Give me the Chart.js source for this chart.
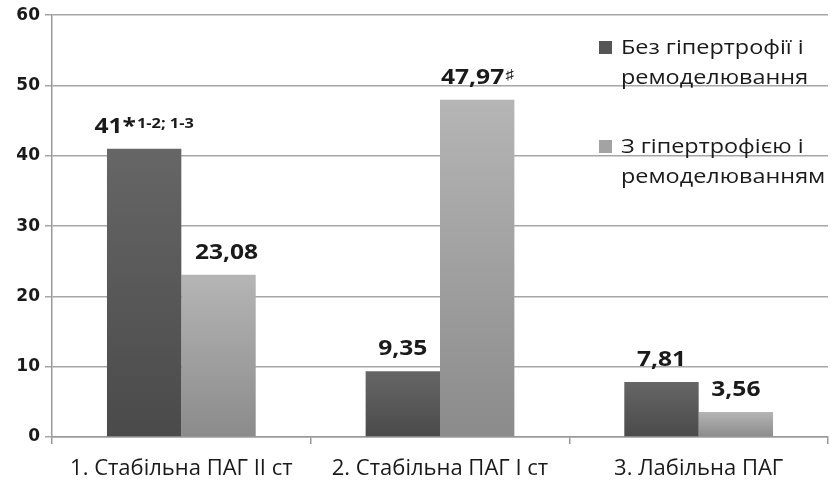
<!DOCTYPE html>
<html>
<head>
<meta charset="utf-8">
<script src="https://cdn.jsdelivr.net/npm/chart.js@4/dist/chart.umd.min.js"></script>
<style>
  html, body { margin: 0; padding: 0; background: #fff; }
  #wrap { width: 836px; height: 488px; position: relative; }
</style>
</head>
<body>
<div id="wrap"><canvas id="c" width="836" height="488"></canvas></div>
<script>
// Categories and series
const categories = ['1. Стабільна ПАГ ІІ ст', '2. Стабільна ПАГ І ст', '3. Лабільна ПАГ'];
const seriesNames = ['Без гіпертрофії і ремоделювання', 'З гіпертрофією і ремоделюванням'];
const legendLines = [['Без гіпертрофії і', 'ремоделювання'], ['З гіпертрофією і', 'ремоделюванням']];
const withoutHypertrophy = [41, 9.35, 7.81];
const withHypertrophy = [23.08, 47.97, 3.56];
// Significance marks printed after the values
const markWithout = [{ sym: '*', sup: '1-2; 1-3' }, { sym: '', sup: '' }, { sym: '', sup: '' }];
const markWith = [{ sym: '', sup: '' }, { sym: '', sup: '♯' }, { sym: '', sup: '' }];
const yTicks = [0, 10, 20, 30, 40, 50, 60];

const shades = [
  { top: '#666666', bottom: '#4a4a4a', flat: '#555555' },
  { top: '#b5b5b5', bottom: '#8b8b8b', flat: '#a3a3a3' }
];
const TEXT = '#1a1a1a';
const SANS = '"Open Sans", sans-serif';
const STRETCH = 1.17; // horizontal widening of the label and legend lettering
// Sideways nudge of individual value labels, in px: [series][category]
const labelShift = [[0, 0, 0], [8, 0, 0]];

function barGradient(shade) {
  return function (ctx) {
    const chart = ctx.chart;
    if (!chart.chartArea || ctx.type !== 'data') return shade.flat;
    const y = chart.scales.y;
    const top = y.getPixelForValue(ctx.raw);
    const base = y.getPixelForValue(0);
    if (!isFinite(top) || base - top < 1) return shade.flat;
    const g = chart.ctx.createLinearGradient(0, top, 0, base);
    g.addColorStop(0, shade.top);
    g.addColorStop(1, shade.bottom);
    return g;
  };
}

const fmt = v => String(v).replace('.', ',');

// Draws text widened horizontally around its left edge x
function wideText(ctx, text, x, y, font) {
  ctx.save();
  ctx.font = font;
  ctx.translate(x, y);
  ctx.scale(STRETCH, 1);
  ctx.fillText(text, 0, 0);
  ctx.restore();
}
function wideWidth(ctx, text, font) {
  ctx.save();
  ctx.font = font;
  const w = ctx.measureText(text).width * STRETCH;
  ctx.restore();
  return w;
}

const valueLabels = {
  id: 'valueLabels',
  afterDatasetsDraw(chart) {
    const ctx = chart.ctx;
    const marks = [markWithout, markWith];
    const mainFont = 'bold 21px ' + SANS;
    const supFont = 'bold 14px ' + SANS;
    ctx.save();
    ctx.fillStyle = TEXT;
    ctx.textBaseline = 'alphabetic';
    ctx.textAlign = 'left';
    chart.data.datasets.forEach((ds, di) => {
      const meta = chart.getDatasetMeta(di);
      meta.data.forEach((bar, i) => {
        const main = fmt(ds.data[i]) + marks[di][i].sym;
        const sup = marks[di][i].sup;
        const wMain = wideWidth(ctx, main, mainFont);
        const wSup = sup ? wideWidth(ctx, sup, supFont) + 1 : 0;
        const x0 = bar.x - (wMain + wSup) / 2 + labelShift[di][i];
        const base = bar.y - 16;
        wideText(ctx, main, x0, base, mainFont);
        if (sup) wideText(ctx, sup, x0 + wMain + 1, base - 5, supFont);
      });
    });
    ctx.restore();
  }
};

const sideLegend = {
  id: 'sideLegend',
  afterDatasetsDraw(chart) {
    const ctx = chart.ctx;
    const firstBaseline = [54, 153];
    const font = '20px ' + SANS;
    ctx.save();
    ctx.textBaseline = 'alphabetic';
    ctx.textAlign = 'left';
    chart.data.datasets.forEach((ds, di) => {
      const b = firstBaseline[di];
      ctx.fillStyle = shades[di].flat;
      ctx.fillRect(599, b - 13, 13, 13);
      ctx.fillStyle = TEXT;
      legendLines[di].forEach((line, li) => {
        wideText(ctx, line, 621, b + li * 30, font);
      });
    });
    ctx.restore();
  }
};

new Chart(document.getElementById('c'), {
  type: 'bar',
  data: {
    labels: categories,
    datasets: [
      { label: seriesNames[0], data: withoutHypertrophy, backgroundColor: barGradient(shades[0]), borderWidth: 0 },
      { label: seriesNames[1], data: withHypertrophy, backgroundColor: barGradient(shades[1]), borderWidth: 0 }
    ]
  },
  options: {
    responsive: false,
    animation: false,
    devicePixelRatio: 1,
    layout: { padding: { top: 13, right: 8, left: 0, bottom: 0 } },
    plugins: { legend: { display: false }, tooltip: { enabled: false } },
    datasets: { bar: { categoryPercentage: 0.575, barPercentage: 1 } },
    scales: {
      x: {
        grid: { display: true, drawOnChartArea: false, offset: true, color: '#999', tickLength: 7, lineWidth: 1.5 },
        border: { color: '#999', width: 1.5 },
        ticks: { color: TEXT, font: { family: SANS, size: 22 }, padding: 12, maxRotation: 0 },
        afterFit(scale) { scale.height = 51; }
      },
      y: {
        min: 0, max: 60,
        afterBuildTicks(scale) { scale.ticks = yTicks.map(v => ({ value: v })); },
        grid: { color: '#a6a6a6', lineWidth: 1.5, tickLength: 7 },
        border: { color: '#999', width: 1.5 },
        ticks: { color: TEXT, font: { family: '"DejaVu Sans", sans-serif', size: 17, weight: 'bold' }, padding: 5 },
        afterFit(scale) { scale.width = 52; }
      }
    }
  },
  plugins: [valueLabels, sideLegend]
});
</script>
</body>
</html>
